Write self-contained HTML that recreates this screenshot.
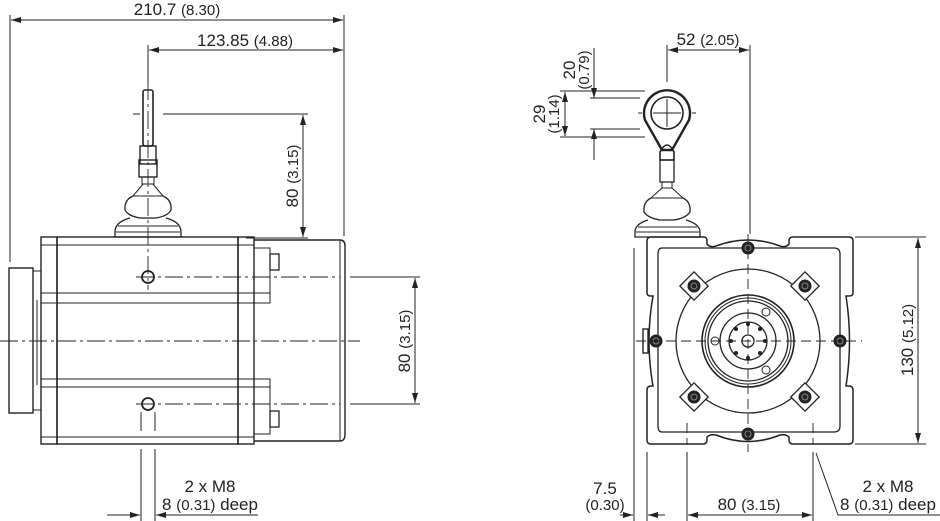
<!DOCTYPE html>
<html><head><meta charset="utf-8"><style>
html,body{margin:0;padding:0;background:#fff}
svg{display:block}
text{font-family:"Liberation Sans",sans-serif;fill:#222}
</style></head><body>
<svg width="940" height="521" viewBox="0 0 940 521" xmlns="http://www.w3.org/2000/svg">
<defs>
<marker id="a" viewBox="0 0 10 6" refX="10" refY="3" markerWidth="10" markerHeight="6" orient="auto-start-reverse" markerUnits="userSpaceOnUse"><path d="M0,0 L10,3 L0,6 z" fill="#222"/></marker>
</defs>
<g stroke="#222" fill="none" stroke-width="1">
<line x1="10" y1="15" x2="10" y2="262"/>
<line x1="344" y1="15" x2="344" y2="236"/>
<line x1="11" y1="20" x2="343" y2="20" marker-start="url(#a)" marker-end="url(#a)"/>
<line x1="148" y1="45" x2="148" y2="84"/>
<line x1="149" y1="50" x2="343" y2="50" marker-start="url(#a)" marker-end="url(#a)"/>
<line x1="133" y1="114" x2="140" y2="114"/>
<line x1="163" y1="114" x2="308" y2="114"/>
<line x1="246" y1="238" x2="308" y2="238"/>
<line x1="303" y1="115" x2="303" y2="237" marker-start="url(#a)" marker-end="url(#a)"/>
<line x1="350" y1="277" x2="420" y2="277"/>
<line x1="350" y1="404" x2="420" y2="404"/>
<line x1="415" y1="278" x2="415" y2="403" marker-start="url(#a)" marker-end="url(#a)"/>
<rect x="143" y="90" width="10" height="56" rx="2" stroke-width="1.6"/>
<rect x="140" y="146" width="16" height="18" stroke-width="1.4"/>
<rect x="139" y="160" width="18" height="17" stroke-width="1.4"/>
<rect x="142" y="177" width="12" height="7"/>
<path d="M143,184 L133,196 L163,196 L153,184"/>
<path d="M133,196 Q124,200 125,210 Q128,216 140,218 L156,218 Q168,216 171,210 Q172,200 163,196" stroke-width="1.3"/>
<path d="M130,218 Q115,222 115,232 L115,237 L181,237 L181,232 Q181,222 166,218" stroke-width="1.3"/>
<line x1="118" y1="226" x2="178" y2="226"/>
<line x1="116" y1="232" x2="180" y2="232"/>
<rect x="41" y="237" width="16" height="207" stroke-width="1.4"/>
<rect x="57" y="237" width="181" height="207" stroke-width="1.4"/>
<line x1="57" y1="245" x2="238" y2="245"/>
<line x1="41" y1="293" x2="270" y2="293"/>
<line x1="41" y1="303" x2="270" y2="303"/>
<line x1="41" y1="379" x2="270" y2="379"/>
<line x1="41" y1="387" x2="270" y2="387"/>
<line x1="57" y1="437" x2="238" y2="437"/>
<line x1="41" y1="245" x2="57" y2="245"/><line x1="41" y1="437" x2="57" y2="437"/>
<rect x="238" y="237" width="16" height="207" stroke-width="1.4"/>
<line x1="238" y1="245" x2="254" y2="245"/><line x1="238" y1="437" x2="254" y2="437"/>
<path d="M254,240 L340,240 Q345,240 345,246 L345,434 Q345,441 340,441 L254,441" stroke-width="1.4"/>
<line x1="340" y1="240" x2="340" y2="441"/>
<rect x="254" y="248" width="16" height="55"/>
<rect x="254" y="379" width="16" height="55"/>
<rect x="270" y="254" width="9" height="16" stroke-width="1.3"/>
<rect x="270" y="411" width="9" height="16" stroke-width="1.3"/>
<rect x="9" y="268" width="24" height="145" stroke-width="1.4"/>
<rect x="33" y="271" width="8" height="139"/>
<line x1="37" y1="300" x2="37" y2="385"/>
<circle cx="148" cy="277" r="6" stroke-width="1.8"/>
<circle cx="148" cy="404" r="6" stroke-width="1.8"/>
<line x1="141" y1="412" x2="141" y2="431"/><line x1="155" y1="412" x2="155" y2="431"/>
<line x1="141" y1="449" x2="141" y2="521"/><line x1="155" y1="449" x2="155" y2="521"/>
<line x1="107" y1="515" x2="140" y2="515" marker-end="url(#a)"/>
<line x1="258" y1="515" x2="156" y2="515" marker-end="url(#a)"/>
<g stroke-dasharray="18,4,3,4" stroke-width="0.9">
<line x1="148" y1="82" x2="148" y2="290"/>
<line x1="136" y1="277" x2="340" y2="277"/>
<line x1="136" y1="404" x2="340" y2="404"/>
<line x1="0" y1="341" x2="360" y2="341"/>
</g>

<line x1="667" y1="45" x2="667" y2="82"/>
<line x1="750" y1="45" x2="750" y2="234"/>
<line x1="668" y1="50" x2="749" y2="50" marker-start="url(#a)" marker-end="url(#a)"/>
<line x1="560" y1="91" x2="645" y2="91"/>
<line x1="560" y1="137" x2="645" y2="137"/>
<line x1="590" y1="98" x2="640" y2="98"/>
<line x1="590" y1="129" x2="640" y2="129"/>
<line x1="594" y1="48" x2="594" y2="98" marker-end="url(#a)"/>
<line x1="594" y1="160" x2="594" y2="129" marker-end="url(#a)"/>
<line x1="565" y1="92" x2="565" y2="136" marker-start="url(#a)" marker-end="url(#a)"/>
<path d="M645,120 A23,23 0 1 1 689,120 L672,150 L662,150 Z" stroke-width="2.4"/>
<circle cx="667" cy="113" r="16" stroke-width="1.6"/>
<line x1="653" y1="113" x2="681" y2="113"/><line x1="667" y1="99" x2="667" y2="127"/>
<line x1="638" y1="113" x2="642" y2="113"/><line x1="692" y1="113" x2="696" y2="113"/>
<path d="M660,152 Q667,138 674,152 L674,160 L660,160 Z" stroke-width="1.6"/>
<rect x="660" y="160" width="14" height="22" stroke-width="1.3"/>
<rect x="662" y="182" width="10" height="6"/>
<path d="M662,188 L651,198 L683,198 L672,188"/>
<path d="M651,198 Q643,202 644,212 Q648,218 660,220 L674,220 Q686,218 690,212 Q691,202 683,198" stroke-width="1.3"/>
<path d="M648,220 Q635,224 635,232 L635,237 L700,237 L700,232 Q700,224 686,220" stroke-width="1.3"/>
<line x1="638" y1="227" x2="697" y2="227"/>
<line x1="636" y1="232" x2="699" y2="232"/>
<path d="M651,237 L704,237 Q707,237 707,241 L707,244 Q710,248 716,246 Q748,234 780,246 Q786,248 789,244 L789,241 Q789,237 793,237 L849,237 Q853,237 853,241 L853,293 Q853,296 849,296 L846,296 Q853,341 846,386 L849,386 Q853,386 853,390 L853,440 Q853,444 849,444 L793,444 Q789,444 789,440 L789,437 Q786,434 780,435 Q748,448 716,435 Q710,434 707,437 L707,440 Q707,444 703,444 L651,444 Q647,444 647,440 L647,390 Q647,386 651,386 L653,386 Q645,341 653,296 L651,296 Q647,296 647,293 L647,241 Q647,237 651,237 Z" stroke-width="1.5"/>
<path d="M662,248 L834,248 Q840,248 840,254 L840,426 Q840,432 834,432 L662,432 Q658,432 658,426 L658,254 Q658,248 662,248 Z" stroke-width="1.3"/>
<circle cx="748" cy="341" r="72" stroke-width="1.3"/>
<circle cx="748" cy="341" r="46" stroke-width="1.6"/>
<circle cx="748" cy="341" r="43"/>
<circle cx="748" cy="341" r="40" stroke-width="1.3"/>
<circle cx="748" cy="341" r="28" stroke-width="1.3"/>
<circle cx="748" cy="341" r="19" stroke-width="1.3"/>
<circle cx="748" cy="341" r="6" stroke-width="1.3"/>
<circle cx="766" cy="312" r="4"/><circle cx="715" cy="341" r="4"/><circle cx="766" cy="370" r="4"/>
<g fill="#222" stroke="none">
<circle cx="748" cy="324" r="2"/><circle cx="748" cy="358" r="2"/><circle cx="731" cy="341" r="2"/><circle cx="765" cy="341" r="2"/>
<circle cx="736" cy="329" r="2"/><circle cx="760" cy="329" r="2"/><circle cx="736" cy="353" r="2"/><circle cx="760" cy="353" r="2"/>
</g>
<rect x="643" y="329" width="5" height="24" stroke-width="1.4"/>
<g stroke-width="1.3">
<rect x="684" y="276" width="20" height="20" transform="rotate(45 694 286)" fill="#fff"/>
<rect x="795" y="276" width="20" height="20" transform="rotate(45 805 286)" fill="#fff"/>
<rect x="684" y="387" width="20" height="20" transform="rotate(45 694 397)" fill="#fff"/>
<rect x="795" y="387" width="20" height="20" transform="rotate(45 805 397)" fill="#fff"/>
</g>
<g fill="#222" stroke="none">
<circle cx="748" cy="248" r="6.5"/><circle cx="748" cy="434" r="6.5"/>
<circle cx="656" cy="341" r="6.5"/><circle cx="840" cy="341" r="6.5"/>
<circle cx="694" cy="286" r="6.5"/><circle cx="805" cy="286" r="6.5"/>
<circle cx="694" cy="397" r="6.5"/><circle cx="805" cy="397" r="6.5"/>
</g>
<g stroke="#888" stroke-width="1">
<circle cx="748" cy="248" r="3"/><circle cx="748" cy="434" r="3"/>
<circle cx="656" cy="341" r="3"/><circle cx="840" cy="341" r="3"/>
<circle cx="694" cy="286" r="3"/><circle cx="805" cy="286" r="3"/>
<circle cx="694" cy="397" r="3"/><circle cx="805" cy="397" r="3"/>
</g>
<g stroke-dasharray="10,5" stroke-width="0.9">
<line x1="748" y1="234" x2="748" y2="452"/>
<line x1="636" y1="341" x2="862" y2="341"/>
<line x1="687" y1="423" x2="687" y2="445"/>
<line x1="813" y1="423" x2="813" y2="445"/>
</g>
<line x1="855" y1="237" x2="926" y2="237"/>
<line x1="855" y1="444" x2="926" y2="444"/>
<line x1="918" y1="238" x2="918" y2="443" marker-start="url(#a)" marker-end="url(#a)"/>
<line x1="634" y1="248" x2="634" y2="521"/>
<line x1="647" y1="452" x2="647" y2="521"/>
<line x1="620" y1="515" x2="633" y2="515" marker-end="url(#a)"/>
<line x1="665" y1="515" x2="648" y2="515" marker-end="url(#a)"/>
<line x1="687" y1="452" x2="687" y2="521"/>
<line x1="813" y1="452" x2="813" y2="521"/>
<line x1="688" y1="515" x2="812" y2="515" marker-start="url(#a)" marker-end="url(#a)"/>
<polyline points="816,453 838,515 940,515"/>
</g>
<g font-size="17">
<text x="177" y="15" text-anchor="middle">210.7 <tspan font-size="15">(8.30)</tspan></text>
<text x="245" y="46" text-anchor="middle">123.85 <tspan font-size="15">(4.88)</tspan></text>
<text transform="translate(298,176) rotate(-90)" text-anchor="middle">80 <tspan font-size="15">(3.15)</tspan></text>
<text transform="translate(410,341) rotate(-90)" text-anchor="middle">80 <tspan font-size="15">(3.15)</tspan></text>
<text x="210" y="492" text-anchor="middle">2 x M8</text>
<text x="210" y="510" text-anchor="middle">8 <tspan font-size="15">(0.31)</tspan> deep</text>
<text x="708" y="45" text-anchor="middle">52 <tspan font-size="15">(2.05)</tspan></text>
<text transform="translate(575,70) rotate(-90)" text-anchor="middle">20</text>
<text transform="translate(589,70) rotate(-90)" text-anchor="middle" font-size="15">(0.79)</text>
<text transform="translate(545,114) rotate(-90)" text-anchor="middle">29</text>
<text transform="translate(559,114) rotate(-90)" text-anchor="middle" font-size="15">(1.14)</text>
<text transform="translate(913,340) rotate(-90)" text-anchor="middle">130 <tspan font-size="15">(5.12)</tspan></text>
<text x="605" y="494" text-anchor="middle">7.5</text>
<text x="605" y="510" text-anchor="middle" font-size="15">(0.30)</text>
<text x="749" y="510" text-anchor="middle">80 <tspan font-size="15">(3.15)</tspan></text>
<text x="888" y="492" text-anchor="middle">2 x M8</text>
<text x="888" y="510" text-anchor="middle">8 <tspan font-size="15">(0.31)</tspan> deep</text>
</g>
</svg>
</body></html>
